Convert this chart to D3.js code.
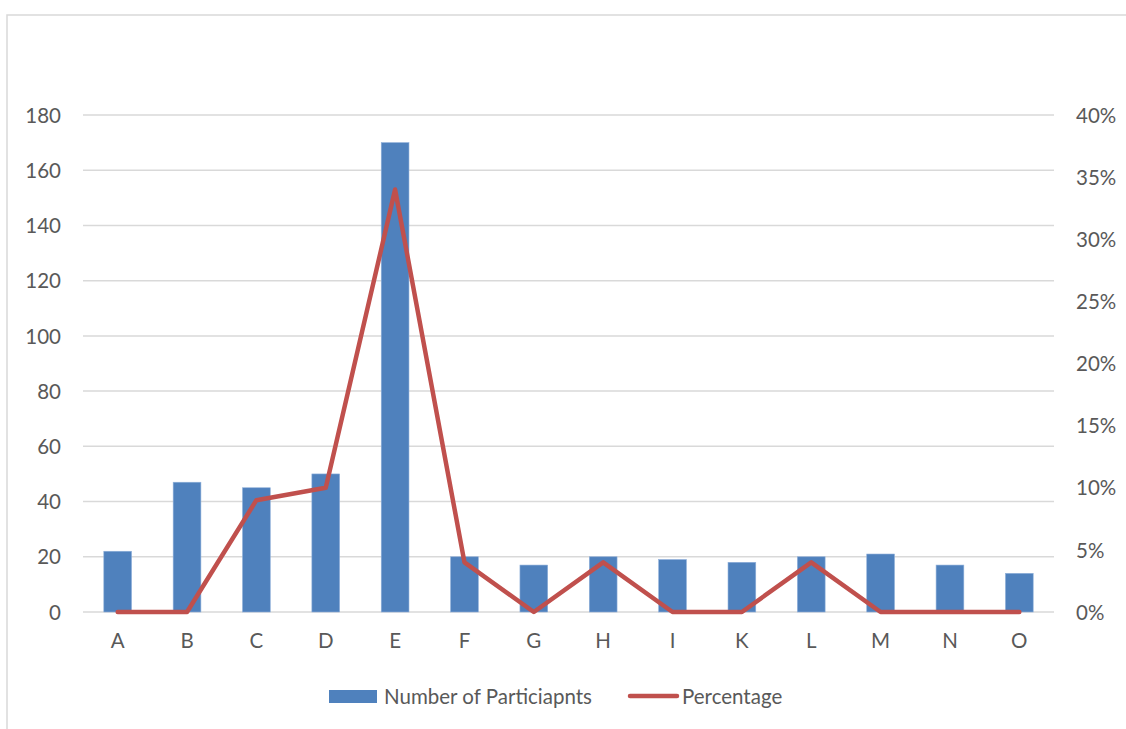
<!DOCTYPE html>
<html><head><meta charset="utf-8">
<script src="https://cdn.jsdelivr.net/npm/d3@7"></script>
<style>body{margin:0;background:#fff;} text{font-family:Lato,"Open Sans",sans-serif;}</style>
</head><body>
<svg id="c" width="1126" height="729"></svg>
<script>
const categories = ["A","B","C","D","E","F","G","H","I","K","L","M","N","O"];
const participants = [22,47,45,50,170,20,17,20,19,18,20,21,17,14];
const percentage = [0,0,0.09,0.10,0.34,0.04,0,0.04,0,0,0.04,0,0,0];
const leftTicks = [0,20,40,60,80,100,120,140,160,180];
const rightTicks = [0,0.05,0.10,0.15,0.20,0.25,0.30,0.35,0.40];
const seriesNames = ["Number of Particiapnts","Percentage"];

const svg = d3.select("#c");
const m = {left:83, right:1054, top:115, bottom:612};
const textCol = "#595959", gridCol = "#D9D9D9", barCol = "#4F81BD", lineCol = "#C0504D";
const fs = "20.5px";

svg.append("rect").attr("x",7).attr("y",15).attr("width",1140).attr("height",740)
  .attr("fill","#fff").attr("stroke",gridCol).attr("stroke-width",1.5);

const x = d3.scaleBand().domain(categories).range([m.left, m.right]).paddingInner(0.6).paddingOuter(0.3);
const y = d3.scaleLinear().domain([0,180]).range([m.bottom, m.top]);
const y2 = d3.scaleLinear().domain([0,0.40]).range([m.bottom, m.top]);

// grid
svg.append("g").selectAll("line").data(leftTicks).join("line")
  .attr("x1",m.left).attr("x2",m.right).attr("y1",d=>y(d)).attr("y2",d=>y(d))
  .attr("stroke",gridCol).attr("stroke-width",1.5);

// left axis
const la = svg.append("g").attr("transform",`translate(${m.left-22},0)`)
  .call(d3.axisLeft(y).tickValues(leftTicks).tickSize(0).tickPadding(0));
la.select(".domain").remove();
la.selectAll("text").attr("fill",textCol).style("font-size",fs).attr("dy","0.35em");

// right axis
const ra = svg.append("g").attr("transform",`translate(${m.right+22},0)`)
  .call(d3.axisRight(y2).tickValues(rightTicks).tickFormat(d3.format(".0%")).tickSize(0).tickPadding(0));
ra.select(".domain").remove();
ra.selectAll("text").attr("fill",textCol).style("font-size",fs).attr("dy","0.35em");

// bottom axis
const ba = svg.append("g").attr("transform",`translate(0,${m.bottom+21})`)
  .call(d3.axisBottom(x).tickSize(0).tickPadding(0));
ba.select(".domain").remove();
ba.selectAll("text").attr("fill",textCol).style("font-size",fs).attr("dy","0.75em");

// bars
svg.append("g").selectAll("rect").data(participants).join("rect")
  .attr("x",(d,i)=>x(categories[i])).attr("width",x.bandwidth())
  .attr("y",d=>y(d)).attr("height",d=>y(0)-y(d))
  .attr("fill",barCol).attr("stroke","#8FB0DA").attr("stroke-width",0.6);

// line
const line = d3.line().x((d,i)=>x(categories[i])+x.bandwidth()/2).y(d=>y2(d));
svg.append("path").datum(percentage).attr("d",line)
  .attr("fill","none").attr("stroke",lineCol).attr("stroke-width",4.5)
  .attr("stroke-linejoin","round").attr("stroke-linecap","round");

// legend
const lg = svg.append("g");
lg.append("rect").attr("x",329).attr("y",690).attr("width",48).attr("height",13).attr("fill",barCol);
lg.append("text").attr("x",384).attr("y",697).attr("dy","0.35em").attr("fill",textCol)
  .style("font-size",fs).text(seriesNames[0]);
lg.append("line").attr("x1",630).attr("x2",677).attr("y1",696).attr("y2",696)
  .attr("stroke",lineCol).attr("stroke-width",4.5).attr("stroke-linecap","round");
lg.append("text").attr("x",682).attr("y",697).attr("dy","0.35em").attr("fill",textCol)
  .style("font-size",fs).text(seriesNames[1]);
</script>
</body></html>
